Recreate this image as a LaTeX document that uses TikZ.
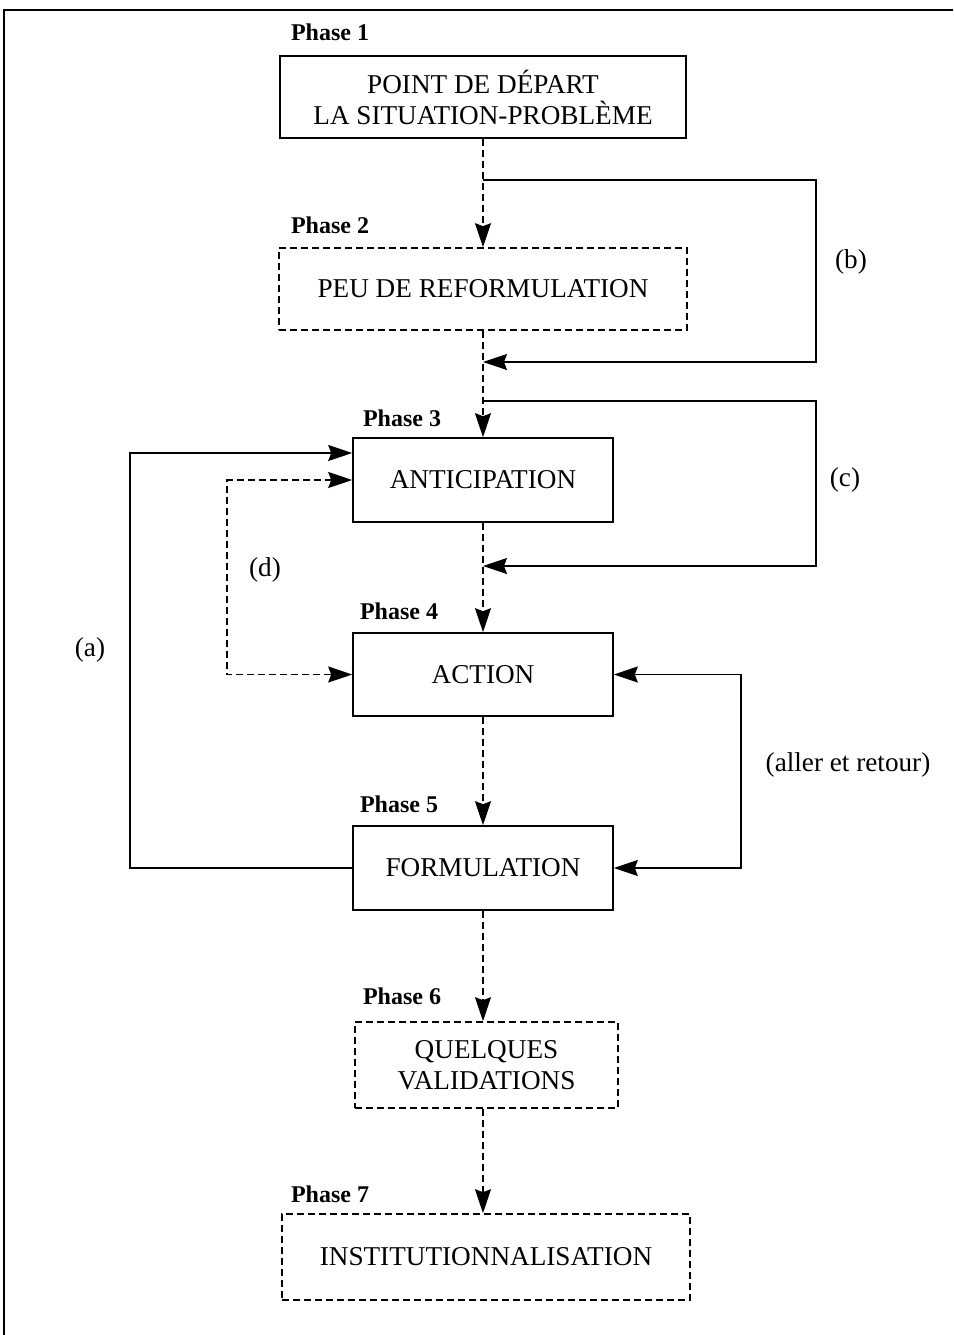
\documentclass[tikz,border=0pt]{standalone}
\usepackage{fontspec}
\setmainfont{Liberation Serif}
\usetikzlibrary{arrows.meta}

\begin{document}
\begin{tikzpicture}[x=1pt,y=-1pt,
      font=\fontsize{27.2}{31}\selectfont, line width=1.6pt,
      >={Stealth[length=24pt,width=16pt,inset=3pt]},
      bx/.style={rectangle,draw,align=center,inner sep=2pt},
      dbx/.style={bx,dash pattern=on 7pt off 4pt},
      ph/.style={font=\fontsize{24}{26}\selectfont\bfseries},
      dl/.style={->,dash pattern=on 7pt off 4pt}]
    \useasboundingbox (0,0) rectangle (953,1335);
    \draw (4,1335) -- (4,10) -- (953,10);

    \node[ph] (l1) at (330,32) {Phase 1};
    \node[bx,minimum width=406pt,minimum height=82pt] (p1) at (483,97)
       {POINT DE DÉPART\\LA SITUATION-PROBLÈME};
    \node[ph] (l2) at (330,225) {Phase 2};
    \node[dbx,minimum width=408pt,minimum height=82pt] (p2) at (483,289) {PEU DE REFORMULATION};
    \node[ph] (l3) at (402,418) {Phase 3};
    \node[bx,minimum width=260pt,minimum height=84pt] (p3) at (483,480) {ANTICIPATION};
    \node[ph] (l4) at (399,611) {Phase 4};
    \node[bx,minimum width=260pt,minimum height=83pt] (p4) at (483,674.5) {ACTION};
    \node[ph] (l5) at (399,804) {Phase 5};
    \node[bx,minimum width=260pt,minimum height=84pt] (p5) at (483,868) {FORMULATION};
    \node[ph] (l6) at (402,996) {Phase 6};
    \node[dbx,minimum width=263pt,minimum height=86pt] (p6) at (486.5,1065) {QUELQUES\\VALIDATIONS};
    \node[ph] (l7) at (330,1194) {Phase 7};
    \node[dbx,minimum width=408pt,minimum height=86pt] (p7) at (486,1257) {INSTITUTIONNALISATION};

    % main line
    \draw[dl] (p1.south) -- (p2.north);
    \draw[dl] (p2.south) -- (p3.north);
    \draw[dl] (p3.south) -- (p4.north);
    \draw[dl] (p4.south) -- (p5.north);
    \draw[dl] (p5.south) -- (p6.north -| p5.south);
    \draw[dl] (p6.south -| p5.south) -- (p7.north -| p5.south);

    % loops
    \coordinate (bs) at (483,180);
    \coordinate (be) at (483,362);
    \coordinate (cs) at (483,401);
    \coordinate (ce) at (483,566);
    \draw[->] (bs) -- ++(333,0) |- (be);
    \draw[->] (cs) -- ++(333,0) |- (ce);
    \draw[<->,dash pattern=on 7pt off 4pt] (p3.west) -- ++(-125,0) |- (p4.west);
    \draw[->] (p5.west) -- ++(-222,0) |- ([yshift=27pt]p3.west);
    \draw[<->] (p4.east) -- ++(127,0) |- (p5.east);

    \node (tb) at (851,262) {(b)};
    \node (tc) at (845,480) {(c)};
    \node (td) at (265,570) {(d)};
    \node (ta) at (90,650) {(a)};
    \node (tr) at (848,765) {(aller et retour)};
  \end{tikzpicture}
\end{document}
